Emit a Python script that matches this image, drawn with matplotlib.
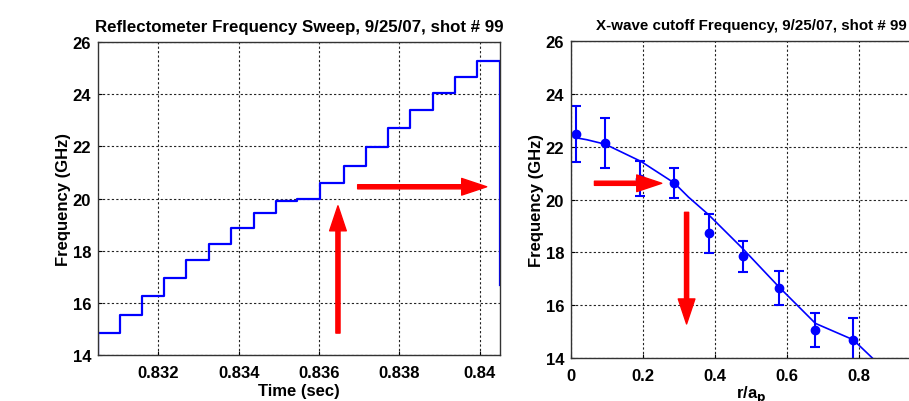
import numpy as np
import matplotlib
matplotlib.use("Agg")
import matplotlib.pyplot as plt

# Reflectometer sweep: step edges (sec) and frequency levels (GHz)
sweepTime = [0.8305, 0.8305, 0.83104, 0.8316, 0.83215, 0.8327, 0.83326, 0.83381,
             0.83438, 0.83493, 0.83546, 0.83603, 0.83661, 0.83717, 0.83772,
             0.83826, 0.83883, 0.83939, 0.83993, 0.8405]
sweepFreq = [14.0, 14.85, 15.55, 16.26, 16.96, 17.64, 18.27, 18.86, 19.43,
             19.92, 19.97, 20.6, 21.26, 21.96, 22.70, 23.39, 24.03, 24.66,
             25.28, 16.7]

# X-wave cutoff points with error bars
cutoffR = [0.013, 0.095, 0.192, 0.287, 0.382, 0.478, 0.577, 0.679, 0.784]
cutoffF = [22.49, 22.15, 20.80, 20.64, 18.72, 17.85, 16.65, 15.06, 14.69]
cutoffErr = [1.05, 0.95, 0.68, 0.57, 0.73, 0.58, 0.64, 0.63, 0.84]

# fitted curve
fitR = [0.007, 0.044, 0.095, 0.194, 0.287, 0.326, 0.382, 0.478, 0.577, 0.679, 0.784, 0.837]
fitF = [22.36, 22.27, 22.10, 21.45, 20.63, 20.10, 19.43, 18.13, 16.70, 15.31, 14.69, 14.0]

leftXTicks = [0.832, 0.834, 0.836, 0.838, 0.84]
leftXLabels = ['0.832', '0.834', '0.836', '0.838', '0.84']
rightXTicks = [0, 0.2, 0.4, 0.6, 0.8]
rightXLabels = ['0', '0.2', '0.4', '0.6', '0.8']
yTicks = [14, 16, 18, 20, 22, 24, 26]

plt.rcParams['font.family'] = ['Liberation Sans', 'DejaVu Sans']
plt.rcParams['font.weight'] = 'bold'

fig = plt.figure(figsize=(9.09, 4.02), dpi=100)

def style_axes(ax):
    ax.grid(True, color='#222222', linestyle=(0, (2, 2)), linewidth=0.8)
    ax.set_yticks(yTicks)
    ax.set_ylim(14, 26)
    ax.tick_params(direction='in', length=3, labelsize=12, width=0.8, pad=5)
    for lab in ax.get_xticklabels() + ax.get_yticklabels():
        lab.set_fontweight('bold')
    for s in ax.spines.values():
        s.set_color('#333333')
        s.set_linewidth(1.0)

def red_arrow(ax, start, end):
    ax.annotate('', xy=end, xytext=start,
                arrowprops=dict(arrowstyle='simple,head_length=18,head_width=12,tail_width=3',
                                mutation_scale=1, color='red', shrinkA=0, shrinkB=0))

# Left panel: frequency sweep
ax1 = fig.add_axes([0.1078, 0.1144, 0.4422, 0.7786])
ax1.step(sweepTime, sweepFreq, where='post', color='#0000FF', linewidth=1.6)
ax1.set_xlim(0.8305, 0.8405)
ax1.set_xticks(leftXTicks)
ax1.set_xticklabels(leftXLabels)
style_axes(ax1)
ax1.tick_params(axis='x', pad=7)
ax1.set_title('Reflectometer Frequency Sweep, 9/25/07, shot # 99', fontsize=12.2,
              fontweight='bold', pad=8)
ax1.set_xlabel('Time (sec)', fontsize=12, fontweight='bold', labelpad=2)
ax1.set_ylabel('Frequency (GHz)', fontsize=12, fontweight='bold', labelpad=1)
red_arrow(ax1, (0.83647, 14.84), (0.83647, 19.72))
red_arrow(ax1, (0.83696, 20.45), (0.84017, 20.45))

# Right panel: X-wave cutoff
ax2 = fig.add_axes([0.6282, 0.107, 0.396, 0.7878])
ax2.plot(fitR, fitF, color='#0000FF', linewidth=1.2)
ax2.errorbar(cutoffR, cutoffF, yerr=cutoffErr, fmt='o', color='#0000FF',
             markersize=6, elinewidth=1.5, capsize=3.5, capthick=1.5)
ax2.set_xlim(0, 1)
ax2.set_xticks(rightXTicks)
ax2.set_xticklabels(rightXLabels)
style_axes(ax2)
ax2.tick_params(axis='x', pad=7)
ax2.set_title('X-wave cutoff Frequency, 9/25/07, shot # 99', fontsize=10.9,
              fontweight='bold', pad=9)
ax2.set_xlabel('r/a$_\\mathbf{p}$', fontsize=12, fontweight='bold', labelpad=0.5)
ax2.set_ylabel('Frequency (GHz)', fontsize=12, fontweight='bold', labelpad=1)
red_arrow(ax2, (0.065, 20.62), (0.252, 20.62))
red_arrow(ax2, (0.321, 19.52), (0.321, 15.29))

fig.savefig('out.png', dpi=100)
